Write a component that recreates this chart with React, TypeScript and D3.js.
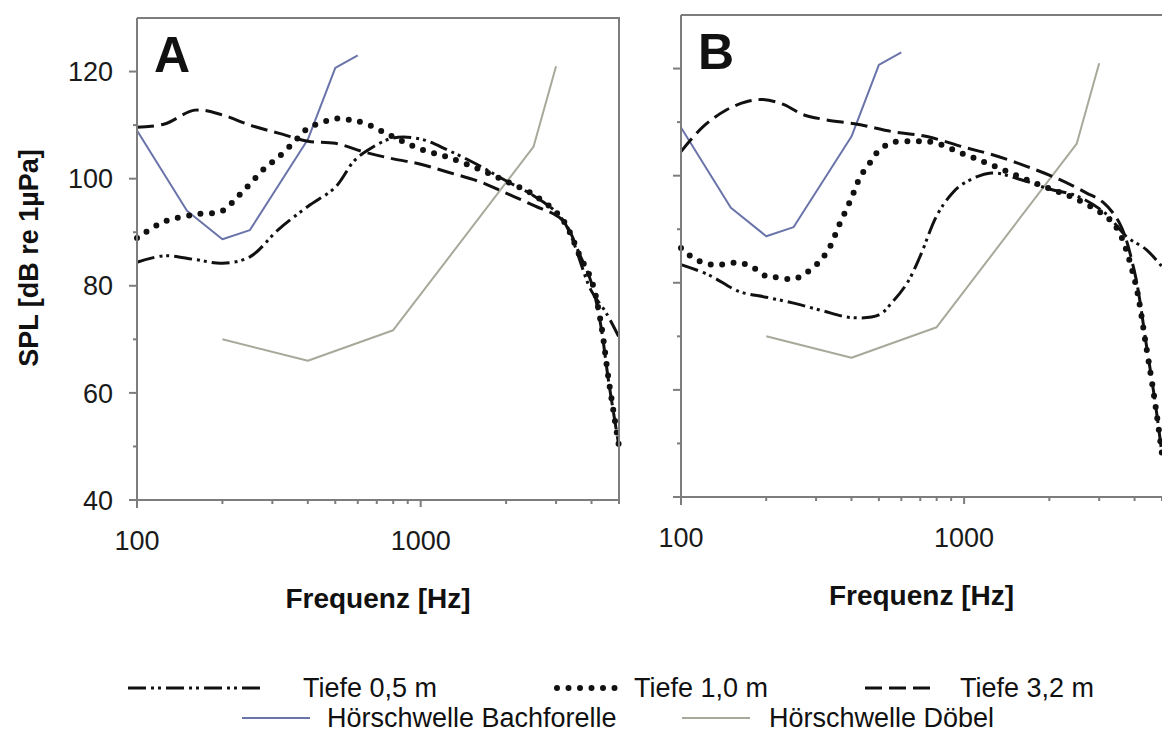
import React from 'react';
import * as d3 from 'd3';

// ---------- data ----------
const freqMajorTicks = [100, 1000];
const freqMinorTicks = [200, 300, 400, 500, 600, 700, 800, 900, 2000, 3000, 4000, 5000];
const splMajorTicks = [40, 60, 80, 100, 120];
const splMinorTicks = [50, 70, 90, 110];

// Panel A
const freqA05 = [100, 125, 160, 200, 250, 315, 400, 500, 580, 650, 800, 1000, 1250, 1600, 2000, 2500, 3150, 4000, 4500, 5000];
const splA05 = [84.4, 85.6, 84.9, 84.2, 85.4, 90.5, 94.8, 98.4, 103.2, 105.3, 107.6, 107.4, 105.3, 102.5, 99.6, 96.8, 92.5, 79, 75, 70.4];

const freqA10 = [100, 125, 160, 200, 225, 250, 280, 315, 360, 400, 450, 500, 560, 630, 800, 1000, 1250, 1600, 2000, 2500, 3150, 3650, 4000, 4300, 4600, 5000];
const splA10 = [88.9, 92, 93.3, 94, 96.5, 99, 101.8, 104, 107, 109.4, 110.5, 111.2, 111, 110.4, 107.8, 105.5, 104, 101.8, 99.5, 97, 92.5, 85.4, 81, 73.6, 62.4, 50];

const freqA32 = [100, 125, 160, 200, 250, 315, 400, 500, 630, 800, 1000, 1250, 1600, 2000, 2500, 3150, 3650, 4000, 4300, 4600, 5000];
const splA32 = [109.6, 110.2, 112.8, 111.9, 110, 108.5, 107, 106.6, 105, 103.7, 102.7, 101.2, 99.5, 97.3, 95, 92.3, 85.6, 80.5, 73, 62, 50];

// Panel B
const freqB05 = [100, 125, 160, 200, 250, 315, 400, 500, 560, 630, 700, 800, 900, 1000, 1250, 1600, 2000, 2500, 3150, 3750, 4400, 5000];
const splB05 = [83.4, 81.5, 78.4, 77.3, 76.2, 74.8, 73.5, 74, 76.5, 80, 85, 92.5, 96.5, 98.6, 100.5, 99.2, 97.5, 96.2, 93, 88.6, 86.2, 83];

const freqB10 = [100, 110, 125, 140, 160, 180, 200, 220, 250, 270, 300, 330, 365, 400, 430, 465, 500, 560, 660, 780, 1000, 1250, 1600, 2000, 2500, 3150, 3500, 4000, 4400, 4750, 5000];
const splB10 = [86.5, 84.7, 83.5, 83.4, 83.8, 82.8, 81.2, 81, 80.7, 81.5, 83.3, 86, 91.2, 95.8, 99.8, 102.4, 104.7, 106.2, 106.4, 106.2, 104, 102, 99.6, 97.6, 95.6, 92.5, 89.8, 80.6, 68, 56.8, 48];

const freqB32 = [100, 120, 145, 170, 195, 230, 270, 320, 430, 560, 740, 1000, 1260, 1670, 2170, 2700, 3100, 3550, 4000, 4400, 4750, 5000];
const splB32 = [104.5, 109.2, 112.3, 113.8, 114.2, 113.3, 111.4, 110.5, 109.5, 108.2, 107.3, 105.3, 103.9, 101.7, 99.3, 96.8, 95, 91, 82, 68.5, 57, 48];

// Hearing thresholds (both panels)
const freqBachforelle = [100, 150, 200, 250, 400, 500, 600];
const splBachforelle = [109, 94, 88.7, 90.4, 107.3, 120.7, 123];
const freqDoebel = [200, 400, 800, 2500, 3000];
const splDoebel = [70, 66, 71.7, 106, 121];

const legendRow1 = ['Tiefe 0,5 m', 'Tiefe 1,0 m', 'Tiefe 3,2 m'];
const legendRow2 = ['Hörschwelle Bachforelle', 'Hörschwelle Döbel'];

// ---------- styles ----------
const FONT = 'Arial, "Liberation Sans", sans-serif';
const AXIS = '#7d7d7d';
const BLUE = '#6a74aa';
const GRAY = '#a7a99a';
const styles = {
  d05: { stroke: '#111', strokeWidth: 3, dash: '18 5 3 4 3 5', cap: 'butt' },
  d10: { stroke: '#111', strokeWidth: 6, dash: '0 11.5', cap: 'round' },
  d32: { stroke: '#111', strokeWidth: 3, dash: '17 7', cap: 'butt' },
  bach: { stroke: BLUE, strokeWidth: 2, dash: undefined, cap: 'butt' },
  doebel: { stroke: GRAY, strokeWidth: 2, dash: undefined, cap: 'butt' },
};

type Panel = {
  label: string;
  left: number; right: number; top: number; bottom: number;
  showYLabels: boolean; rightBorder: boolean;
  series: { f: number[]; v: number[]; st: keyof typeof styles; smooth: boolean }[];
};

const panels: Panel[] = [
  {
    label: 'A', left: 137, right: 619, top: 18, bottom: 500, showYLabels: true, rightBorder: true,
    series: [
      { f: freqBachforelle, v: splBachforelle, st: 'bach', smooth: false },
      { f: freqDoebel, v: splDoebel, st: 'doebel', smooth: false },
      { f: freqA32, v: splA32, st: 'd32', smooth: true },
      { f: freqA05, v: splA05, st: 'd05', smooth: true },
      { f: freqA10, v: splA10, st: 'd10', smooth: true },
    ],
  },
  {
    label: 'B', left: 681, right: 1162, top: 15, bottom: 497, showYLabels: false, rightBorder: false,
    series: [
      { f: freqBachforelle, v: splBachforelle, st: 'bach', smooth: false },
      { f: freqDoebel, v: splDoebel, st: 'doebel', smooth: false },
      { f: freqB32, v: splB32, st: 'd32', smooth: true },
      { f: freqB05, v: splB05, st: 'd05', smooth: true },
      { f: freqB10, v: splB10, st: 'd10', smooth: true },
    ],
  },
];

function PanelView({ p }: { p: Panel }) {
  const x = d3.scaleLog().domain([100, 5000]).range([p.left, p.right]);
  const y = d3.scaleLinear().domain([40, 130]).range([p.bottom, p.top]);
  return (
    <g>
      {p.series.map((s, i) => {
        const pts: [number, number][] = s.f.map((f, j) => [f, s.v[j]]);
        const line = d3.line<[number, number]>()
          .x(d => x(d[0]))
          .y(d => y(d[1]))
          .curve(s.smooth ? d3.curveCatmullRom.alpha(0.5) : d3.curveLinear);
        const st = styles[s.st];
        return (
          <path key={i} d={line(pts) || ''} fill="none" stroke={st.stroke} strokeWidth={st.strokeWidth}
            strokeDasharray={st.dash} strokeLinecap={st.cap as any} strokeLinejoin="round" />
        );
      })}
      {/* axes */}
      <line x1={p.left} x2={p.left} y1={p.top} y2={p.bottom + 8} stroke={AXIS} strokeWidth={2} />
      <line x1={p.left - 8} x2={p.right} y1={p.bottom} y2={p.bottom} stroke={AXIS} strokeWidth={2} />
      <line x1={p.left} x2={p.right + (p.rightBorder ? 1 : 0)} y1={p.top} y2={p.top} stroke={AXIS} strokeWidth={2} />
      {p.rightBorder && <line x1={p.right} x2={p.right} y1={p.top} y2={p.bottom} stroke={AXIS} strokeWidth={2} />}
      {splMajorTicks.map(t => (
        <g key={'ym' + t}>
          <line x1={p.left - 8} x2={p.left} y1={y(t)} y2={y(t)} stroke={AXIS} strokeWidth={2} />
          {p.showYLabels && (
            <text x={p.left - 24} y={y(t)} dy="0.36em" textAnchor="end" fontSize={27} fontFamily={FONT} fill="#1a1a1a">{t}</text>
          )}
        </g>
      ))}
      {splMinorTicks.map(t => (
        <line key={'yn' + t} x1={p.left - 4} x2={p.left} y1={y(t)} y2={y(t)} stroke={AXIS} strokeWidth={2} />
      ))}
      {freqMajorTicks.map(t => (
        <g key={'xm' + t}>
          <line x1={x(t)} x2={x(t)} y1={p.bottom} y2={p.bottom + 7} stroke={AXIS} strokeWidth={2} />
          <text x={x(t)} y={p.bottom + 50} textAnchor="middle" fontSize={27} fontFamily={FONT} fill="#1a1a1a">{t}</text>
        </g>
      ))}
      {freqMinorTicks.map(t => (
        <line key={'xn' + t} x1={x(t)} x2={x(t)} y1={p.bottom} y2={p.bottom + 4} stroke={AXIS} strokeWidth={2} />
      ))}
      <text x={(p.left + p.right) / 2} y={p.bottom + 108} textAnchor="middle" fontSize={28} fontWeight="bold" fontFamily={FONT} fill="#111">Frequenz [Hz]</text>
      <text x={p.left + 17} y={p.top + 54} fontSize={50} fontWeight="bold" fontFamily={FONT} fill="#111">{p.label}</text>
    </g>
  );
}

function LegendSample({ x1, x2, yv, st }: { x1: number; x2: number; yv: number; st: keyof typeof styles }) {
  const s = styles[st];
  return <line x1={x1} x2={x2} y1={yv} y2={yv} stroke={s.stroke} strokeWidth={s.strokeWidth}
    strokeDasharray={s.dash} strokeLinecap={s.cap as any} />;
}

function LegendText({ x, y, children }: { x: number; y: number; children: React.ReactNode }) {
  return <text x={x} y={y} dy="0.35em" fontSize={27} fontFamily={FONT} fill="#111">{children}</text>;
}

export default function App() {
  const r1 = 688;
  const r2 = 718;
  return (
    <svg width={1162} height={733} style={{ position: 'absolute', left: 0, top: 0, background: '#fff' }}>
      <rect width={1162} height={733} fill="#fff" />
      {panels.map(p => <PanelView key={p.label} p={p} />)}
      <text transform={`translate(38,258) rotate(-90)`} textAnchor="middle" fontSize={27} fontWeight="bold" fontFamily={FONT} fill="#111">SPL [dB re 1µPa]</text>
      {/* legend */}
      <LegendSample x1={128} x2={262} yv={r1} st="d05" />
      <LegendText x={303} y={r1}>{legendRow1[0]}</LegendText>
      <LegendSample x1={557} x2={625} yv={r1} st="d10" />
      <LegendText x={634} y={r1}>{legendRow1[1]}</LegendText>
      <LegendSample x1={865} x2={935} yv={r1} st="d32" />
      <LegendText x={960} y={r1}>{legendRow1[2]}</LegendText>
      <LegendSample x1={242} x2={310} yv={r2} st="bach" />
      <LegendText x={327} y={r2}>{legendRow2[0]}</LegendText>
      <LegendSample x1={682} x2={750} yv={r2} st="doebel" />
      <LegendText x={769} y={r2}>{legendRow2[1]}</LegendText>
    </svg>
  );
}
